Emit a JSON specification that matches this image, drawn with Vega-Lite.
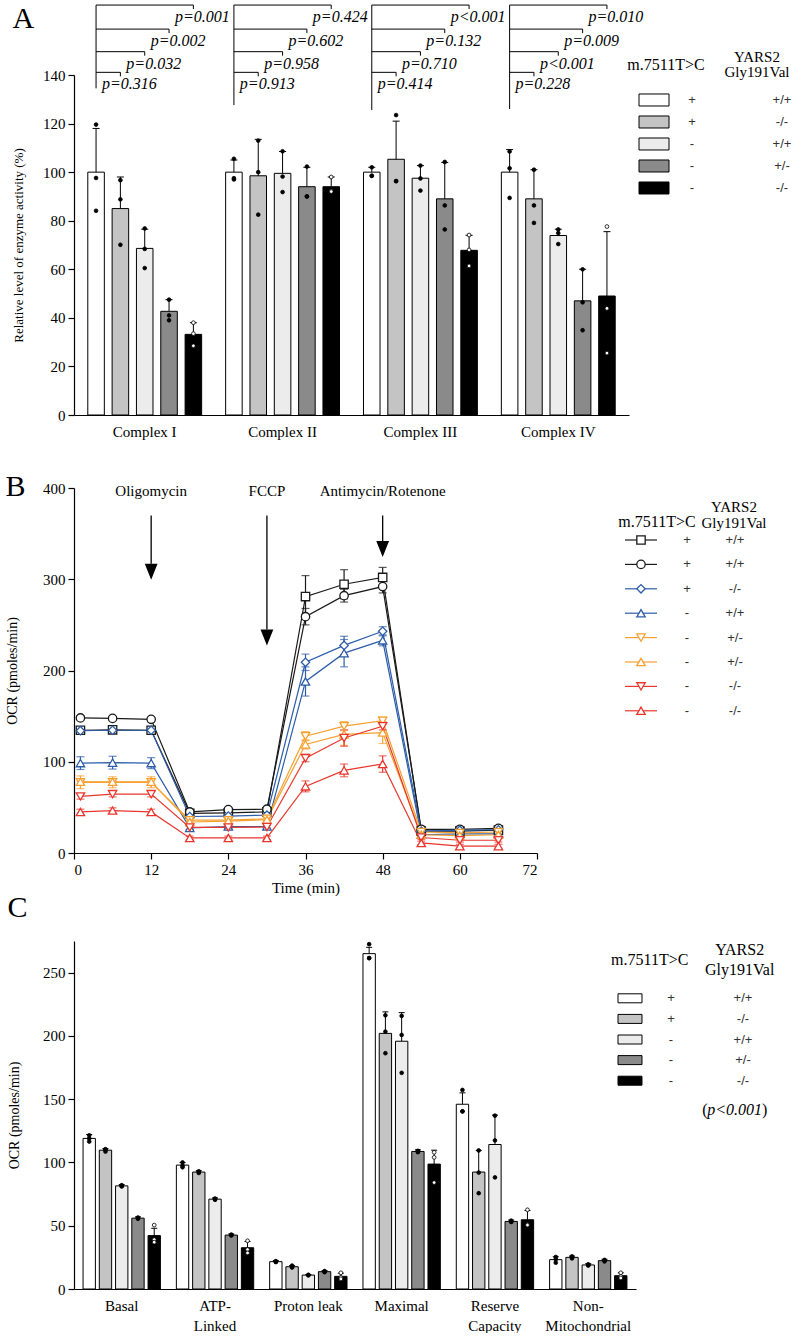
{
  "$schema": "https://vega.github.io/schema/vega-lite/v6.json",
  "padding": {"left": 5, "top": 3, "right": 0, "bottom": 0},
  "background": "white",
  "config": {
    "view": {"stroke": null},
    "font": "Liberation Serif",
    "axis": {"labelFont": "Liberation Serif", "titleFont": "Liberation Serif", "labelFontSize": 15, "titleFontSize": 14, "titleFontWeight": "normal", "labelColor": "#000", "titleColor": "#000", "domainColor": "#000", "tickColor": "#000", "grid": false, "tickSize": 6, "labelPadding": 3, "domainWidth": 1.2, "tickWidth": 1.2},
    "title": {"font": "Liberation Serif", "fontWeight": "normal", "fontSize": 30, "anchor": "start", "frame": "bounds", "color": "#000"},
    "legend": {"disable": true}
  },
  "datasets": {
    "A_bars": [
      {"complex": "Complex I", "geno": "+ +/+", "mean": 100, "hi": 118, "d1": 119.6, "d2": 97.6, "d3": 84.1},
      {"complex": "Complex I", "geno": "+ -/-", "mean": 85, "hi": 98, "d1": 96.7, "d2": 88.8, "d3": 70.1},
      {"complex": "Complex I", "geno": "- +/+", "mean": 68.6, "hi": 76.5, "d1": 76.8, "d2": 68.4, "d3": 60.5},
      {"complex": "Complex I", "geno": "- +/-", "mean": 42.7, "hi": 47.5, "d1": 47.5, "d2": 41, "d3": 39},
      {"complex": "Complex I", "geno": "- -/-", "mean": 33.2, "hi": 38, "d1": 38, "d2": 33.5, "d3": 28.5},
      {"complex": "Complex II", "geno": "+ +/+", "mean": 100, "hi": 105, "d1": 105.5, "d2": 97, "d3": 97.5},
      {"complex": "Complex II", "geno": "+ -/-", "mean": 98.5, "hi": 113.5, "d1": 113, "d2": 100, "d3": 82.5},
      {"complex": "Complex II", "geno": "- +/+", "mean": 99.5, "hi": 108.5, "d1": 108.6, "d2": 98.2, "d3": 91.8},
      {"complex": "Complex II", "geno": "- +/-", "mean": 94, "hi": 102, "d1": 102.3, "d2": 90, "d3": 90},
      {"complex": "Complex II", "geno": "- -/-", "mean": 94, "hi": 98, "d1": 98, "d2": 92.3, "d3": 92},
      {"complex": "Complex III", "geno": "+ +/+", "mean": 100, "hi": 102, "d1": 102, "d2": 98.5, "d3": 98.5},
      {"complex": "Complex III", "geno": "+ -/-", "mean": 105.3, "hi": 121, "d1": 123.5, "d2": 96.3, "d3": 96.3},
      {"complex": "Complex III", "geno": "- +/+", "mean": 97.5, "hi": 102.7, "d1": 102.7, "d2": 97.4, "d3": 92.4},
      {"complex": "Complex III", "geno": "- +/-", "mean": 89, "hi": 104, "d1": 104.2, "d2": 86.3, "d3": 76.4},
      {"complex": "Complex III", "geno": "- -/-", "mean": 67.8, "hi": 74, "d1": 74.1, "d2": 68, "d3": 61.4},
      {"complex": "Complex IV", "geno": "+ +/+", "mean": 100, "hi": 109.3, "d1": 108.5, "d2": 101.6, "d3": 89.4},
      {"complex": "Complex IV", "geno": "+ -/-", "mean": 89, "hi": 101, "d1": 101, "d2": 86.3, "d3": 79.1},
      {"complex": "Complex IV", "geno": "- +/+", "mean": 73.9, "hi": 76.5, "d1": 76.4, "d2": 74.9, "d3": 70.4},
      {"complex": "Complex IV", "geno": "- +/-", "mean": 47, "hi": 60, "d1": 60, "d2": 46.4, "d3": 34.9},
      {"complex": "Complex IV", "geno": "- -/-", "mean": 49, "hi": 75.5, "d1": 77.6, "d2": 43.9, "d3": 25.5}
    ],
    "A_pv": [
      {"complex": "Complex I", "start": "+ +/+", "end": "- -/-", "y": 168.8, "p": "p=0.001"},
      {"complex": "Complex I", "start": "+ +/+", "end": "- +/-", "y": 158.9, "p": "p=0.002"},
      {"complex": "Complex I", "start": "+ +/+", "end": "- +/+", "y": 149.6, "p": "p=0.032"},
      {"complex": "Complex I", "start": "+ +/+", "end": "+ -/-", "y": 141.1, "p": "p=0.316"},
      {"complex": "Complex II", "start": "+ +/+", "end": "- -/-", "y": 168.8, "p": "p=0.424"},
      {"complex": "Complex II", "start": "+ +/+", "end": "- +/-", "y": 158.9, "p": "p=0.602"},
      {"complex": "Complex II", "start": "+ +/+", "end": "- +/+", "y": 149.6, "p": "p=0.958"},
      {"complex": "Complex II", "start": "+ +/+", "end": "+ -/-", "y": 141.1, "p": "p=0.913"},
      {"complex": "Complex III", "start": "+ +/+", "end": "- -/-", "y": 168.8, "p": "p<0.001"},
      {"complex": "Complex III", "start": "+ +/+", "end": "- +/-", "y": 158.9, "p": "p=0.132"},
      {"complex": "Complex III", "start": "+ +/+", "end": "- +/+", "y": 149.6, "p": "p=0.710"},
      {"complex": "Complex III", "start": "+ +/+", "end": "+ -/-", "y": 141.1, "p": "p=0.414"},
      {"complex": "Complex IV", "start": "+ +/+", "end": "- -/-", "y": 168.8, "p": "p=0.010"},
      {"complex": "Complex IV", "start": "+ +/+", "end": "- +/-", "y": 158.9, "p": "p=0.009"},
      {"complex": "Complex IV", "start": "+ +/+", "end": "- +/+", "y": 149.6, "p": "p<0.001"},
      {"complex": "Complex IV", "start": "+ +/+", "end": "+ -/-", "y": 141.1, "p": "p=0.228"}
    ],
    "A_vert": [
      {"complex": "Complex I", "start": "+ +/+", "top": 168.8, "bottom": 134.5},
      {"complex": "Complex II", "start": "+ +/+", "top": 168.8, "bottom": 127.6},
      {"complex": "Complex III", "start": "+ +/+", "top": 168.8, "bottom": 125.6},
      {"complex": "Complex IV", "start": "+ +/+", "top": 168.8, "bottom": 126}
    ],
    "legA": [
      {"geno": "+ +/+", "m": "+", "yars": "+/+", "row": 1},
      {"geno": "+ -/-", "m": "+", "yars": "-/-", "row": 2},
      {"geno": "- +/+", "m": "-", "yars": "+/+", "row": 3},
      {"geno": "- +/-", "m": "-", "yars": "+/-", "row": 4},
      {"geno": "- -/-", "m": "-", "yars": "-/-", "row": 5}
    ],
    "B": [
      {"s": "1", "t": 1, "v": 134.5, "sd": 3}, {"s": "1", "t": 6, "v": 135, "sd": 3}, {"s": "1", "t": 12, "v": 134.5, "sd": 3}, {"s": "1", "t": 18, "v": 43.5, "sd": 2}, {"s": "1", "t": 24, "v": 44, "sd": 2}, {"s": "1", "t": 30, "v": 45, "sd": 2}, {"s": "1", "t": 36, "v": 281, "sd": 23}, {"s": "1", "t": 42, "v": 294.5, "sd": 16}, {"s": "1", "t": 48, "v": 302, "sd": 11}, {"s": "1", "t": 54, "v": 24, "sd": 2}, {"s": "1", "t": 60, "v": 24, "sd": 2}, {"s": "1", "t": 66, "v": 25, "sd": 2},
      {"s": "2", "t": 1, "v": 148, "sd": 2}, {"s": "2", "t": 6, "v": 147.5, "sd": 2}, {"s": "2", "t": 12, "v": 146.5, "sd": 2}, {"s": "2", "t": 18, "v": 45, "sd": 2}, {"s": "2", "t": 24, "v": 47.5, "sd": 2}, {"s": "2", "t": 30, "v": 48, "sd": 2}, {"s": "2", "t": 36, "v": 259, "sd": 9}, {"s": "2", "t": 42, "v": 282, "sd": 7}, {"s": "2", "t": 48, "v": 292, "sd": 7}, {"s": "2", "t": 54, "v": 26, "sd": 2}, {"s": "2", "t": 60, "v": 26, "sd": 2}, {"s": "2", "t": 66, "v": 27, "sd": 2},
      {"s": "3", "t": 1, "v": 134, "sd": 3}, {"s": "3", "t": 6, "v": 134.5, "sd": 3}, {"s": "3", "t": 12, "v": 134.5, "sd": 3}, {"s": "3", "t": 18, "v": 40, "sd": 2}, {"s": "3", "t": 24, "v": 40.5, "sd": 2}, {"s": "3", "t": 30, "v": 41.5, "sd": 2}, {"s": "3", "t": 36, "v": 209, "sd": 9}, {"s": "3", "t": 42, "v": 227.5, "sd": 10}, {"s": "3", "t": 48, "v": 243, "sd": 5}, {"s": "3", "t": 54, "v": 24, "sd": 2}, {"s": "3", "t": 60, "v": 25, "sd": 2}, {"s": "3", "t": 66, "v": 25.5, "sd": 2},
      {"s": "4", "t": 1, "v": 98.5, "sd": 7}, {"s": "4", "t": 6, "v": 99, "sd": 7}, {"s": "4", "t": 12, "v": 98.5, "sd": 6}, {"s": "4", "t": 18, "v": 27.5, "sd": 2}, {"s": "4", "t": 24, "v": 29, "sd": 2}, {"s": "4", "t": 30, "v": 29, "sd": 2}, {"s": "4", "t": 36, "v": 188, "sd": 16}, {"s": "4", "t": 42, "v": 219, "sd": 15}, {"s": "4", "t": 48, "v": 233, "sd": 6}, {"s": "4", "t": 54, "v": 20, "sd": 2}, {"s": "4", "t": 60, "v": 21, "sd": 2}, {"s": "4", "t": 66, "v": 21, "sd": 2},
      {"s": "5", "t": 1, "v": 77.5, "sd": 7}, {"s": "5", "t": 6, "v": 77.5, "sd": 6}, {"s": "5", "t": 12, "v": 77.5, "sd": 6}, {"s": "5", "t": 18, "v": 36, "sd": 2}, {"s": "5", "t": 24, "v": 36, "sd": 2}, {"s": "5", "t": 30, "v": 37.5, "sd": 2}, {"s": "5", "t": 36, "v": 128, "sd": 5}, {"s": "5", "t": 42, "v": 139, "sd": 5}, {"s": "5", "t": 48, "v": 145, "sd": 4}, {"s": "5", "t": 54, "v": 23, "sd": 2}, {"s": "5", "t": 60, "v": 22, "sd": 2}, {"s": "5", "t": 66, "v": 23, "sd": 2},
      {"s": "6", "t": 1, "v": 78, "sd": 3}, {"s": "6", "t": 6, "v": 78, "sd": 3}, {"s": "6", "t": 12, "v": 78, "sd": 3}, {"s": "6", "t": 18, "v": 34, "sd": 2}, {"s": "6", "t": 24, "v": 35, "sd": 2}, {"s": "6", "t": 30, "v": 36.5, "sd": 2}, {"s": "6", "t": 36, "v": 119, "sd": 5}, {"s": "6", "t": 42, "v": 130, "sd": 12}, {"s": "6", "t": 48, "v": 132, "sd": 12}, {"s": "6", "t": 54, "v": 20, "sd": 2}, {"s": "6", "t": 60, "v": 19, "sd": 2}, {"s": "6", "t": 66, "v": 20, "sd": 2},
      {"s": "7", "t": 1, "v": 62, "sd": 3}, {"s": "7", "t": 6, "v": 64.5, "sd": 3}, {"s": "7", "t": 12, "v": 64.5, "sd": 3}, {"s": "7", "t": 18, "v": 28, "sd": 2}, {"s": "7", "t": 24, "v": 28, "sd": 2}, {"s": "7", "t": 30, "v": 28.5, "sd": 2}, {"s": "7", "t": 36, "v": 104, "sd": 4}, {"s": "7", "t": 42, "v": 126, "sd": 9}, {"s": "7", "t": 48, "v": 139, "sd": 4}, {"s": "7", "t": 54, "v": 17, "sd": 2}, {"s": "7", "t": 60, "v": 14, "sd": 2}, {"s": "7", "t": 66, "v": 14, "sd": 2},
      {"s": "8", "t": 1, "v": 45, "sd": 3}, {"s": "8", "t": 6, "v": 46.5, "sd": 3}, {"s": "8", "t": 12, "v": 45, "sd": 3}, {"s": "8", "t": 18, "v": 16.5, "sd": 2}, {"s": "8", "t": 24, "v": 16.5, "sd": 2}, {"s": "8", "t": 30, "v": 16.5, "sd": 2}, {"s": "8", "t": 36, "v": 73, "sd": 6}, {"s": "8", "t": 42, "v": 90.5, "sd": 7}, {"s": "8", "t": 48, "v": 97.5, "sd": 9}, {"s": "8", "t": 54, "v": 11, "sd": 2}, {"s": "8", "t": 60, "v": 7.5, "sd": 2}, {"s": "8", "t": 66, "v": 7.5, "sd": 2}
    ],
    "B_arr": [
      {"t": 12, "label": "Oligomycin", "top": 370, "head": 317},
      {"t": 30, "label": "FCCP", "top": 370, "head": 245},
      {"t": 48, "label": "Antimycin/Rotenone", "top": 370, "head": 342}
    ],
    "legB": [
      {"s": "1", "m": "+", "yars": "+/+", "row": 1},
      {"s": "2", "m": "+", "yars": "+/+", "row": 2},
      {"s": "3", "m": "+", "yars": "-/-", "row": 3},
      {"s": "4", "m": "-", "yars": "+/+", "row": 4},
      {"s": "5", "m": "-", "yars": "+/-", "row": 5},
      {"s": "6", "m": "-", "yars": "+/-", "row": 6},
      {"s": "7", "m": "-", "yars": "-/-", "row": 7},
      {"s": "8", "m": "-", "yars": "-/-", "row": 8}
    ],
    "C_bars": [
      {"cat": "Basal", "geno": "+ +/+", "mean": 119, "hi": 122, "d1": 121.5, "d2": 119, "d3": 116.5},
      {"cat": "Basal", "geno": "+ -/-", "mean": 109.7, "hi": 111, "d1": 110.5, "d2": 110, "d3": 108.6},
      {"cat": "Basal", "geno": "- +/+", "mean": 81.5, "hi": 82.5, "d1": 82, "d2": 81.5, "d3": 81},
      {"cat": "Basal", "geno": "- +/-", "mean": 56, "hi": 57, "d1": 56.5, "d2": 56, "d3": 55.5},
      {"cat": "Basal", "geno": "- -/-", "mean": 42.2, "hi": 48, "d1": 50.5, "d2": 39, "d3": 37},
      {"cat": "ATP-\nLinked", "geno": "+ +/+", "mean": 97.9, "hi": 100, "d1": 100, "d2": 97.5, "d3": 96.2},
      {"cat": "ATP-\nLinked", "geno": "+ -/-", "mean": 92.4, "hi": 93.5, "d1": 93, "d2": 92.5, "d3": 91.7},
      {"cat": "ATP-\nLinked", "geno": "- +/+", "mean": 71, "hi": 72, "d1": 71.5, "d2": 71, "d3": 70.5},
      {"cat": "ATP-\nLinked", "geno": "- +/-", "mean": 42.6, "hi": 43.5, "d1": 43, "d2": 42.5, "d3": 42.3},
      {"cat": "ATP-\nLinked", "geno": "- -/-", "mean": 32.6, "hi": 37.5, "d1": 38.1, "d2": 31.2, "d3": 28.5},
      {"cat": "Proton leak", "geno": "+ +/+", "mean": 21.6, "hi": 22.5, "d1": 22, "d2": 21.5, "d3": 21.3},
      {"cat": "Proton leak", "geno": "+ -/-", "mean": 17.6, "hi": 18.5, "d1": 18.5, "d2": 17.3, "d3": 17},
      {"cat": "Proton leak", "geno": "- +/+", "mean": 11, "hi": 11.5, "d1": 11.2, "d2": 11, "d3": 10.8},
      {"cat": "Proton leak", "geno": "- +/-", "mean": 13.7, "hi": 14.5, "d1": 14.2, "d2": 13.6, "d3": 13.3},
      {"cat": "Proton leak", "geno": "- -/-", "mean": 10, "hi": 12.5, "d1": 12.8, "d2": 9.2, "d3": 8},
      {"cat": "Maximal", "geno": "+ +/+", "mean": 265, "hi": 270, "d1": 272.5, "d2": 261.5, "d3": 261.5},
      {"cat": "Maximal", "geno": "+ -/-", "mean": 202, "hi": 219, "d1": 216.3, "d2": 203.4, "d3": 186.3},
      {"cat": "Maximal", "geno": "- +/+", "mean": 195.8, "hi": 218.4, "d1": 215.8, "d2": 200.8, "d3": 170.8},
      {"cat": "Maximal", "geno": "- +/-", "mean": 108.7, "hi": 110, "d1": 109.2, "d2": 108.8, "d3": 108.1},
      {"cat": "Maximal", "geno": "- -/-", "mean": 98.7, "hi": 109.7, "d1": 108, "d2": 104, "d3": 84.1},
      {"cat": "Reserve\nCapacity", "geno": "+ +/+", "mean": 146, "hi": 155, "d1": 157.3, "d2": 140.4, "d3": 140.4},
      {"cat": "Reserve\nCapacity", "geno": "+ -/-", "mean": 92.4, "hi": 109.5, "d1": 109.5, "d2": 92, "d3": 75.7},
      {"cat": "Reserve\nCapacity", "geno": "- +/+", "mean": 114.2, "hi": 137.4, "d1": 137, "d2": 117.4, "d3": 88.2},
      {"cat": "Reserve\nCapacity", "geno": "- +/-", "mean": 53.4, "hi": 54.5, "d1": 54, "d2": 53.2, "d3": 53},
      {"cat": "Reserve\nCapacity", "geno": "- -/-", "mean": 54.7, "hi": 62, "d1": 62.6, "d2": 51, "d3": 50.5},
      {"cat": "Non-\nMitochondrial", "geno": "+ +/+", "mean": 23.2, "hi": 25.5, "d1": 25.3, "d2": 23.5, "d3": 20.8},
      {"cat": "Non-\nMitochondrial", "geno": "+ -/-", "mean": 25, "hi": 26, "d1": 25.8, "d2": 25, "d3": 24.2},
      {"cat": "Non-\nMitochondrial", "geno": "- +/+", "mean": 19, "hi": 20, "d1": 19.5, "d2": 19, "d3": 18.5},
      {"cat": "Non-\nMitochondrial", "geno": "- +/-", "mean": 22.4, "hi": 23.5, "d1": 23, "d2": 22.4, "d3": 21.8},
      {"cat": "Non-\nMitochondrial", "geno": "- -/-", "mean": 10.5, "hi": 12.8, "d1": 12.8, "d2": 10, "d3": 8.7}
    ]
  },
  "resolve": {"scale": {"x": "independent", "y": "independent", "xOffset": "independent", "color": "independent", "fill": "independent", "stroke": "independent", "shape": "independent"}},
  "vconcat": [
    {
      "resolve": {"scale": {"x": "independent", "y": "independent", "xOffset": "independent", "color": "independent", "fill": "independent", "stroke": "independent", "shape": "independent"}},
      "hconcat": [
        {
          "width": 555, "height": 340,
          "title": {"text": "A", "dy": 35},
          "layer": [
            {"data": {"name": "A_bars"}, "mark": {"type": "bar", "stroke": "#000", "strokeWidth": 1},
             "encoding": {
               "x": {"field": "complex", "type": "nominal", "scale": {"domain": ["Complex I", "Complex II", "Complex III", "Complex IV"], "paddingInner": 0.174, "paddingOuter": 0.1}, "axis": {"title": null, "ticks": false, "labelAngle": 0, "labelPadding": 9}},
               "xOffset": {"field": "geno", "type": "nominal", "scale": {"domain": ["+ +/+", "+ -/-", "- +/+", "- +/-", "- -/-"], "paddingInner": 0.32, "paddingOuter": 0}},
               "y": {"field": "mean", "type": "quantitative", "scale": {"domain": [0, 140], "nice": false}, "axis": {"values": [0, 20, 40, 60, 80, 100, 120, 140], "title": "Relative level of enzyme activity (%)", "titleFontSize": 13, "titlePadding": 17}},
               "fill": {"field": "geno", "type": "nominal", "scale": {"domain": ["+ +/+", "+ -/-", "- +/+", "- +/-", "- -/-"], "range": ["#ffffff", "#c4c4c4", "#ececec", "#8a8a8a", "#000000"]}, "legend": null}
             }},
            {"data": {"name": "A_bars"}, "mark": {"type": "rule", "color": "#000", "strokeWidth": 1},
             "encoding": {"x": {"field": "complex", "type": "nominal"}, "xOffset": {"field": "geno", "type": "nominal"}, "y": {"field": "mean", "type": "quantitative"}, "y2": {"field": "hi"}}},
            {"data": {"name": "A_bars"}, "mark": {"type": "tick", "color": "#000", "thickness": 1, "size": 7, "opacity": 1},
             "encoding": {"x": {"field": "complex", "type": "nominal"}, "xOffset": {"field": "geno", "type": "nominal"}, "y": {"field": "hi", "type": "quantitative"}}},
            {"data": {"name": "A_bars"}, "mark": {"type": "point", "filled": true, "size": 14, "stroke": "#000", "strokeWidth": 0.8, "opacity": 1},
             "encoding": {"x": {"field": "complex", "type": "nominal"}, "xOffset": {"field": "geno", "type": "nominal"}, "y": {"field": "d1", "type": "quantitative"}, "color": {"field": "geno", "type": "nominal", "scale": {"domain": ["+ +/+", "+ -/-", "- +/+", "- +/-", "- -/-"], "range": ["#000", "#000", "#000", "#000", "#fff"]}, "legend": null}}},
            {"data": {"name": "A_bars"}, "mark": {"type": "point", "filled": true, "size": 14, "stroke": "#000", "strokeWidth": 0.8, "opacity": 1, "dx": -3.5},
             "encoding": {"x": {"field": "complex", "type": "nominal"}, "xOffset": {"field": "geno", "type": "nominal"}, "y": {"field": "d2", "type": "quantitative"}, "color": {"field": "geno", "type": "nominal", "legend": null}}},
            {"data": {"name": "A_bars"}, "mark": {"type": "point", "filled": true, "size": 14, "stroke": "#000", "strokeWidth": 0.8, "opacity": 1, "dx": 3.5},
             "encoding": {"x": {"field": "complex", "type": "nominal"}, "xOffset": {"field": "geno", "type": "nominal"}, "y": {"field": "d3", "type": "quantitative"}, "color": {"field": "geno", "type": "nominal", "legend": null}}},
            {"data": {"name": "A_pv"}, "transform": [{"fold": ["start", "end"], "as": ["pt", "gx"]}], "mark": {"type": "line", "color": "#000", "strokeWidth": 1},
             "encoding": {"x": {"field": "complex", "type": "nominal"}, "xOffset": {"field": "gx", "type": "nominal"}, "y": {"field": "y", "type": "quantitative"}, "detail": [{"field": "complex"}, {"field": "end"}]}},
            {"data": {"name": "A_pv"}, "mark": {"type": "point", "shape": "M0,0L0,1", "size": 64, "filled": false, "stroke": "#000", "strokeWidth": 1, "opacity": 1},
             "encoding": {"x": {"field": "complex", "type": "nominal"}, "xOffset": {"field": "end", "type": "nominal"}, "y": {"field": "y", "type": "quantitative"}}},
            {"data": {"name": "A_pv"}, "mark": {"type": "text", "font": "Liberation Serif", "fontStyle": "italic", "fontSize": 16, "dy": 12, "dx": 9, "baseline": "middle", "align": "center"},
             "encoding": {"x": {"field": "complex", "type": "nominal"}, "xOffset": {"field": "end", "type": "nominal"}, "y": {"field": "y", "type": "quantitative"}, "text": {"field": "p"}}},
            {"data": {"name": "A_vert"}, "mark": {"type": "rule", "color": "#000", "strokeWidth": 1},
             "encoding": {"x": {"field": "complex", "type": "nominal"}, "xOffset": {"field": "start", "type": "nominal"}, "y": {"field": "top", "type": "quantitative"}, "y2": {"field": "bottom"}}}
          ]
        },
        {
          "width": 160, "height": 132,
          "layer": [
            {"data": {"name": "legA"}, "mark": {"type": "point", "shape": "M-1.25,-0.5H1.25V0.5H-1.25Z", "size": 576, "filled": true, "stroke": "#000", "strokeWidth": 1, "opacity": 1},
             "encoding": {
               "x": {"datum": 2.0, "type": "quantitative", "scale": {"domain": [0, 16], "nice": false, "zero": false}, "axis": null},
               "y": {"field": "row", "type": "quantitative", "scale": {"domain": [-0.136, 5.864], "reverse": true, "nice": false, "zero": false}, "axis": null},
               "fill": {"field": "geno", "type": "nominal", "scale": {"domain": ["+ +/+", "+ -/-", "- +/+", "- +/-", "- -/-"], "range": ["#ffffff", "#c4c4c4", "#ececec", "#8a8a8a", "#000000"]}, "legend": null}
             }},
            {"data": {"name": "legA"}, "mark": {"type": "text", "font": "Liberation Sans", "fontSize": 13, "fill": "#333", "baseline": "middle"},
             "encoding": {"x": {"datum": 5.8, "type": "quantitative"}, "y": {"field": "row", "type": "quantitative"}, "text": {"field": "m"}}},
            {"data": {"name": "legA"}, "mark": {"type": "text", "font": "Liberation Sans", "fontSize": 13, "fill": "#333", "baseline": "middle"},
             "encoding": {"x": {"datum": 14.8, "type": "quantitative"}, "y": {"field": "row", "type": "quantitative"}, "text": {"field": "yars"}}},
            {"data": {"values": [{}]}, "mark": {"type": "text", "text": "m.7511T>C", "font": "Liberation Serif", "fontSize": 16, "baseline": "middle"},
             "encoding": {"x": {"datum": 3.2, "type": "quantitative"}, "y": {"datum": -0.59, "type": "quantitative"}}},
            {"data": {"values": [{}]}, "mark": {"type": "text", "text": ["YARS2", "Gly191Val"], "font": "Liberation Serif", "fontSize": 15, "lineHeight": 15, "baseline": "middle"},
             "encoding": {"x": {"datum": 12.3, "type": "quantitative"}, "y": {"datum": -0.954, "type": "quantitative"}}}
          ]
        }
      ],
      "bounds": "flush",
      "spacing": 5
    },
    {
      "resolve": {"scale": {"x": "independent", "y": "independent", "xOffset": "independent", "color": "independent", "fill": "independent", "stroke": "independent", "shape": "independent"}},
      "vconcat": [
        {
          "resolve": {"scale": {"x": "independent", "y": "independent", "xOffset": "independent", "color": "independent", "fill": "independent", "stroke": "independent", "shape": "independent"}},
          "hconcat": [
            {
              "width": 463, "height": 365,
              "title": {"text": "B", "dy": 25},
              "layer": [
                {"data": {"name": "B"}, "mark": {"type": "line", "strokeWidth": 1.2},
                 "encoding": {
                   "x": {"field": "t", "type": "quantitative", "scale": {"domain": [0, 72], "nice": false}, "axis": {"values": [0, 6, 12, 18, 24, 30, 36, 42, 48, 54, 60, 66, 72], "title": "Time (min)", "titleFontSize": 15, "titlePadding": 3}},
                   "y": {"field": "v", "type": "quantitative", "scale": {"domain": [0, 400], "nice": false}, "axis": {"values": [0, 100, 200, 300, 400], "title": "OCR (pmoles/min)", "titlePadding": 23}},
                   "color": {"field": "s", "type": "nominal", "scale": {"domain": ["1", "2", "3", "4", "5", "6", "7", "8"], "range": ["#1a1a1a", "#1a1a1a", "#2d5da8", "#2d5da8", "#f5a030", "#f5a030", "#e8362c", "#e8362c"]}, "legend": null}
                 }},
                {"data": {"name": "B"}, "mark": {"type": "errorbar", "ticks": {"size": 8}, "thickness": 1.2},
                 "encoding": {"x": {"field": "t", "type": "quantitative", "title": "Time (min)"}, "y": {"field": "v", "type": "quantitative", "title": "OCR (pmoles/min)"}, "yError": {"field": "sd"}, "color": {"field": "s", "type": "nominal", "legend": null}}},
                {"data": {"name": "B"}, "mark": {"type": "point", "filled": true, "fill": "#fff", "size": 70, "strokeWidth": 1.3, "opacity": 1},
                 "encoding": {"x": {"field": "t", "type": "quantitative"}, "y": {"field": "v", "type": "quantitative"},
                   "stroke": {"field": "s", "type": "nominal", "scale": {"domain": ["1", "2", "3", "4", "5", "6", "7", "8"], "range": ["#1a1a1a", "#1a1a1a", "#2d5da8", "#2d5da8", "#f5a030", "#f5a030", "#e8362c", "#e8362c"]}, "legend": null},
                   "shape": {"field": "s", "type": "nominal", "scale": {"domain": ["1", "2", "3", "4", "5", "6", "7", "8"], "range": ["square", "circle", "diamond", "triangle-up", "triangle-down", "triangle-up", "triangle-down", "triangle-up"]}, "legend": null}}},
                {"data": {"name": "B_arr"}, "mark": {"type": "rule", "color": "#000", "strokeWidth": 1.3},
                 "encoding": {"x": {"field": "t", "type": "quantitative"}, "y": {"field": "top", "type": "quantitative"}, "y2": {"field": "head"}}},
                {"data": {"name": "B_arr"}, "mark": {"type": "point", "shape": "M-0.8,0L0.8,0L0,2Z", "size": 256, "filled": true, "color": "#000", "opacity": 1},
                 "encoding": {"x": {"field": "t", "type": "quantitative"}, "y": {"field": "head", "type": "quantitative"}}},
                {"data": {"name": "B_arr"}, "mark": {"type": "text", "font": "Liberation Serif", "fontSize": 15, "baseline": "middle"},
                 "encoding": {"x": {"field": "t", "type": "quantitative"}, "y": {"datum": 397, "type": "quantitative"}, "text": {"field": "label"}}}
              ]
            },
            {
              "width": 247, "height": 244,
              "layer": [
                {"data": {"name": "legB"}, "mark": {"type": "point", "shape": "M-1,0L1,0", "size": 1024, "filled": false, "strokeWidth": 1.2, "opacity": 1},
                 "encoding": {
                   "x": {"datum": 9.9, "type": "quantitative", "scale": {"domain": [0, 24.7], "nice": false, "zero": false}, "axis": null},
                   "y": {"field": "row", "type": "quantitative", "scale": {"domain": [-1.131, 8.869], "reverse": true, "nice": false, "zero": false}, "axis": null},
                   "stroke": {"field": "s", "type": "nominal", "scale": {"domain": ["1", "2", "3", "4", "5", "6", "7", "8"], "range": ["#1a1a1a", "#1a1a1a", "#2d5da8", "#2d5da8", "#f5a030", "#f5a030", "#e8362c", "#e8362c"]}, "legend": null}
                 }},
                {"data": {"name": "legB"}, "mark": {"type": "point", "filled": true, "fill": "#fff", "size": 70, "strokeWidth": 1.3, "opacity": 1},
                 "encoding": {"x": {"datum": 9.9, "type": "quantitative"}, "y": {"field": "row", "type": "quantitative"},
                   "stroke": {"field": "s", "type": "nominal", "legend": null},
                   "shape": {"field": "s", "type": "nominal", "scale": {"domain": ["1", "2", "3", "4", "5", "6", "7", "8"], "range": ["square", "circle", "diamond", "triangle-up", "triangle-down", "triangle-up", "triangle-down", "triangle-up"]}, "legend": null}}},
                {"data": {"name": "legB"}, "mark": {"type": "text", "font": "Liberation Sans", "fontSize": 13, "fill": "#333", "baseline": "middle"},
                 "encoding": {"x": {"datum": 14.5, "type": "quantitative"}, "y": {"field": "row", "type": "quantitative"}, "text": {"field": "m"}}},
                {"data": {"name": "legB"}, "mark": {"type": "text", "font": "Liberation Sans", "fontSize": 13, "fill": "#333", "baseline": "middle"},
                 "encoding": {"x": {"datum": 19.3, "type": "quantitative"}, "y": {"field": "row", "type": "quantitative"}, "text": {"field": "yars"}}},
                {"data": {"values": [{}]}, "mark": {"type": "text", "text": "m.7511T>C", "font": "Liberation Serif", "fontSize": 16, "baseline": "middle"},
                 "encoding": {"x": {"datum": 11.5, "type": "quantitative"}, "y": {"datum": 0.262, "type": "quantitative"}}},
                {"data": {"values": [{}]}, "mark": {"type": "text", "text": ["YARS2", "Gly191Val"], "font": "Liberation Serif", "fontSize": 15, "lineHeight": 16, "baseline": "middle"},
                 "encoding": {"x": {"datum": 19.2, "type": "quantitative"}, "y": {"datum": -0.352, "type": "quantitative"}}}
              ]
            }
          ],
          "bounds": "flush",
          "spacing": 5
        },
        {
          "resolve": {"scale": {"x": "independent", "y": "independent", "xOffset": "independent", "color": "independent", "fill": "independent", "stroke": "independent", "shape": "independent"}},
          "hconcat": [
            {
              "width": 562, "height": 348,
              "title": {"text": "C", "dy": -14},
              "layer": [
                {"data": {"name": "C_bars"}, "mark": {"type": "bar", "stroke": "#000", "strokeWidth": 1},
                 "encoding": {
                   "x": {"field": "cat", "type": "nominal", "scale": {"domain": ["Basal", "ATP-\nLinked", "Proton leak", "Maximal", "Reserve\nCapacity", "Non-\nMitochondrial"], "paddingInner": 0.171, "paddingOuter": 0.097}, "axis": {"title": null, "ticks": false, "labelAngle": 0, "labelPadding": 9, "labelExpr": "split(datum.label, '\\n')", "labelLineHeight": 20}},
                   "xOffset": {"field": "geno", "type": "nominal", "scale": {"domain": ["+ +/+", "+ -/-", "- +/+", "- +/-", "- -/-"], "paddingInner": 0.24, "paddingOuter": 0}},
                   "y": {"field": "mean", "type": "quantitative", "scale": {"domain": [0, 275], "nice": false}, "axis": {"values": [0, 25, 50, 75, 100, 125, 150, 175, 200, 225, 250, 275], "title": "OCR (pmoles/min)", "titlePadding": 21}},
                   "fill": {"field": "geno", "type": "nominal", "scale": {"domain": ["+ +/+", "+ -/-", "- +/+", "- +/-", "- -/-"], "range": ["#ffffff", "#c4c4c4", "#ececec", "#8a8a8a", "#000000"]}, "legend": null}
                 }},
                {"data": {"name": "C_bars"}, "mark": {"type": "rule", "color": "#000", "strokeWidth": 1},
                 "encoding": {"x": {"field": "cat", "type": "nominal"}, "xOffset": {"field": "geno", "type": "nominal"}, "y": {"field": "mean", "type": "quantitative"}, "y2": {"field": "hi"}}},
                {"data": {"name": "C_bars"}, "mark": {"type": "tick", "color": "#000", "thickness": 1, "size": 6, "opacity": 1},
                 "encoding": {"x": {"field": "cat", "type": "nominal"}, "xOffset": {"field": "geno", "type": "nominal"}, "y": {"field": "hi", "type": "quantitative"}}},
                {"data": {"name": "C_bars"}, "mark": {"type": "point", "filled": true, "size": 14, "stroke": "#000", "strokeWidth": 0.8, "opacity": 1},
                 "encoding": {"x": {"field": "cat", "type": "nominal"}, "xOffset": {"field": "geno", "type": "nominal"}, "y": {"field": "d1", "type": "quantitative"}, "color": {"field": "geno", "type": "nominal", "scale": {"domain": ["+ +/+", "+ -/-", "- +/+", "- +/-", "- -/-"], "range": ["#000", "#000", "#000", "#000", "#fff"]}, "legend": null}}},
                {"data": {"name": "C_bars"}, "mark": {"type": "point", "filled": true, "size": 14, "stroke": "#000", "strokeWidth": 0.8, "opacity": 1, "dx": -3},
                 "encoding": {"x": {"field": "cat", "type": "nominal"}, "xOffset": {"field": "geno", "type": "nominal"}, "y": {"field": "d2", "type": "quantitative"}, "color": {"field": "geno", "type": "nominal", "legend": null}}},
                {"data": {"name": "C_bars"}, "mark": {"type": "point", "filled": true, "size": 14, "stroke": "#000", "strokeWidth": 0.8, "opacity": 1, "dx": 3},
                 "encoding": {"x": {"field": "cat", "type": "nominal"}, "xOffset": {"field": "geno", "type": "nominal"}, "y": {"field": "d3", "type": "quantitative"}, "color": {"field": "geno", "type": "nominal", "legend": null}}}
              ]
            },
            {
              "width": 149, "height": 206,
              "layer": [
                {"data": {"name": "legA"}, "mark": {"type": "point", "shape": "M-1.333,-0.5H1.333V0.5H-1.333Z", "size": 324, "filled": true, "stroke": "#000", "strokeWidth": 1, "opacity": 1},
                 "encoding": {
                   "x": {"datum": -1.1, "type": "quantitative", "scale": {"domain": [0, 14.9], "nice": false, "zero": false}, "axis": null},
                   "y": {"field": "row", "type": "quantitative", "scale": {"domain": [-1.782, 8.218], "reverse": true, "nice": false, "zero": false}, "axis": null},
                   "fill": {"field": "geno", "type": "nominal", "scale": {"domain": ["+ +/+", "+ -/-", "- +/+", "- +/-", "- -/-"], "range": ["#ffffff", "#c4c4c4", "#ececec", "#8a8a8a", "#000000"]}, "legend": null}
                 }},
                {"data": {"name": "legA"}, "mark": {"type": "text", "font": "Liberation Sans", "fontSize": 13, "fill": "#333", "baseline": "middle"},
                 "encoding": {"x": {"datum": 3.0, "type": "quantitative"}, "y": {"field": "row", "type": "quantitative"}, "text": {"field": "m"}}},
                {"data": {"name": "legA"}, "mark": {"type": "text", "font": "Liberation Sans", "fontSize": 13, "fill": "#333", "baseline": "middle"},
                 "encoding": {"x": {"datum": 10.2, "type": "quantitative"}, "y": {"field": "row", "type": "quantitative"}, "text": {"field": "yars"}}},
                {"data": {"values": [{}]}, "mark": {"type": "text", "text": "m.7511T>C", "font": "Liberation Serif", "fontSize": 16, "baseline": "middle"},
                 "encoding": {"x": {"datum": 0.87, "type": "quantitative"}, "y": {"datum": -0.874, "type": "quantitative"}}},
                {"data": {"values": [{}]}, "mark": {"type": "text", "text": ["YARS2", "Gly191Val"], "font": "Liberation Serif", "fontSize": 16, "lineHeight": 20, "baseline": "middle"},
                 "encoding": {"x": {"datum": 9.87, "type": "quantitative"}, "y": {"datum": -1.345, "type": "quantitative"}}},
                {"data": {"values": [{}]}, "mark": {"type": "text", "text": "p<0.001", "font": "Liberation Serif", "fontStyle": "italic", "fontSize": 16, "baseline": "middle"},
                 "encoding": {"x": {"datum": 9.37, "type": "quantitative"}, "y": {"datum": 6.407, "type": "quantitative"}}},
                {"data": {"values": [{}]}, "mark": {"type": "text", "text": "(", "font": "Liberation Serif", "fontSize": 16, "baseline": "middle", "align": "right"},
                 "encoding": {"x": {"datum": 6.65, "type": "quantitative"}, "y": {"datum": 6.407, "type": "quantitative"}}},
                {"data": {"values": [{}]}, "mark": {"type": "text", "text": ")", "font": "Liberation Serif", "fontSize": 16, "baseline": "middle", "align": "left"},
                 "encoding": {"x": {"datum": 12.1, "type": "quantitative"}, "y": {"datum": 6.407, "type": "quantitative"}}}
              ]
            }
          ],
          "bounds": "flush",
          "spacing": 5
        }
      ],
      "spacing": -3
    }
  ],
  "spacing": 33
}
